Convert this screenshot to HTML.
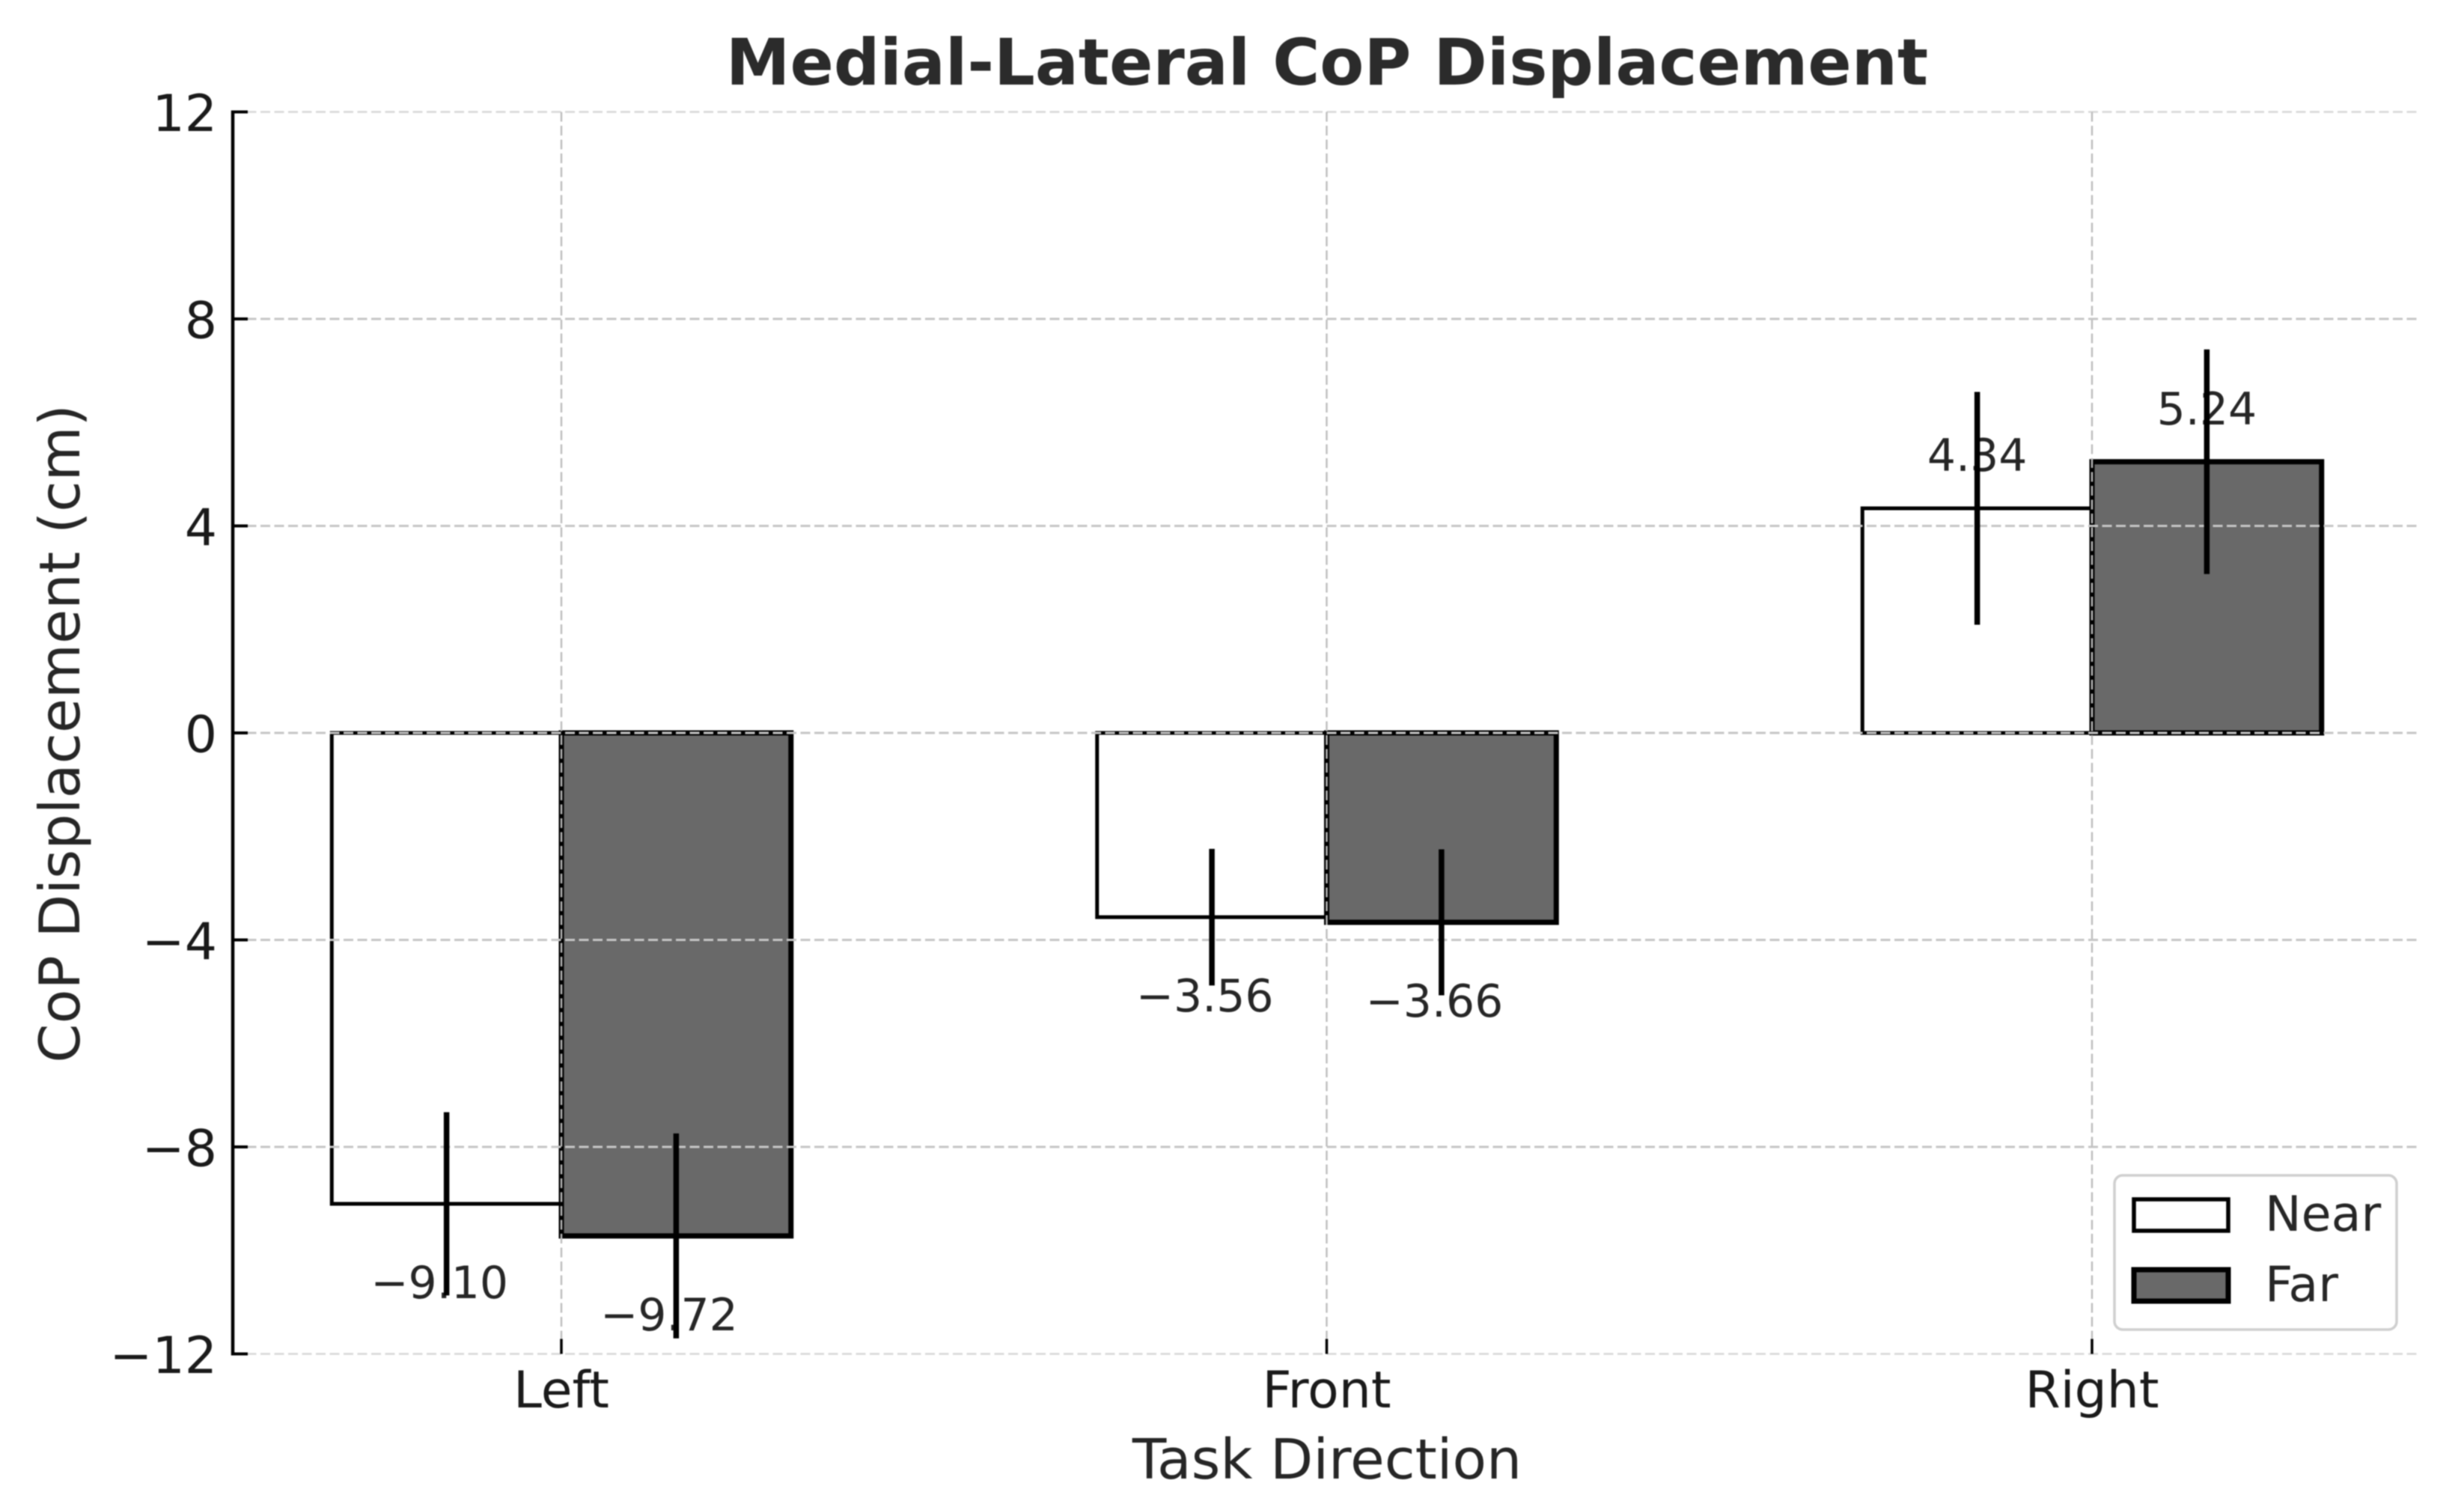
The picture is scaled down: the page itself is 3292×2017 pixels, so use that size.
<!DOCTYPE html>
<html lang="en">
<head>
<meta charset="utf-8">
<title>Medial-Lateral CoP Displacement</title>
<style>
  html, body { margin: 0; padding: 0; background: #ffffff; }
  body { width: 3292px; height: 2017px; overflow: hidden; }
  svg { display: block; filter: blur(0.8px); }
  text { font-family: "DejaVu Sans", "Liberation Sans", sans-serif; fill: #262626; }
</style>
</head>
<body>
<svg id="chart" xmlns="http://www.w3.org/2000/svg" width="3292" height="2017" viewBox="0 0 3292 2017">
  <rect x="0" y="0" width="3292" height="2017" fill="#ffffff"/>
  <g id="bars"></g>
  <g id="grid"></g>
  <g id="axes"></g>
  <g id="labels"></g>
  <g id="errors"></g>
  <text x="1773" y="113" text-anchor="middle" font-size="86" font-weight="700" style="fill:#2b2b2b">Medial-Lateral CoP Displacement</text>
  <text x="1773" y="1975" text-anchor="middle" font-size="74.4">Task Direction</text>
  <text transform="translate(106 980) rotate(-90)" text-anchor="middle" font-size="75">CoP Displacement (cm)</text>
  <g>
    <rect x="2825" y="1570" width="377" height="206" rx="11" ry="11" fill="#ffffff" stroke="#cfcfcf" stroke-width="3.5"/>
    <rect x="2851" y="1602" width="126" height="42" fill="#ffffff" stroke="#000000" stroke-width="5.5"/>
    <text x="3026" y="1644" font-size="65">Near</text>
    <rect x="2851" y="1696" width="126" height="42" fill="#696969" stroke="#000000" stroke-width="7"/>
    <text x="3026" y="1738" font-size="65">Far</text>
  </g>
</svg>
<script>
const categories = ["Left", "Front", "Right"];
const nearValues = [-9.10, -3.56, 4.34];
const farValues = [-9.72, -3.66, 5.24];
const nearErrors = [1.77, 1.32, 2.25];
const farErrors = [1.98, 1.41, 2.17];
const yTicks = [-12, -8, -4, 0, 4, 8, 12];

const NS = "http://www.w3.org/2000/svg";
const Y_TOP = 149.5, Y_BOTTOM = 1808.5, Y_MIN = -12, Y_MAX = 12;
const X_FIRST = 750, X_STEP = 1022.5, X_AXIS = 311, X_END = 3233;
const BAR_WIDTH = 0.3 * X_STEP;

function yScale(v) {
  return Y_BOTTOM - (v - Y_MIN) / (Y_MAX - Y_MIN) * (Y_BOTTOM - Y_TOP);
}
function xScale(i) {
  return X_FIRST + i * X_STEP;
}
function fmt(v, digits) {
  return (v < 0 ? "\u2212" : "") + Math.abs(v).toFixed(digits);
}
function make(tag, parent, props, content) {
  const el = document.createElementNS(NS, tag);
  for (const k in props) el.setAttribute(k, props[k]);
  if (content !== undefined) el.textContent = content;
  parent.appendChild(el);
  return el;
}

const barsLayer = document.getElementById("bars");
const gridLayer = document.getElementById("grid");
const axesLayer = document.getElementById("axes");
const labelsLayer = document.getElementById("labels");
const errorsLayer = document.getElementById("errors");

function drawBar(i, value, side, fill, strokeWidth, seriesName) {
  const x0 = side < 0 ? xScale(i) - BAR_WIDTH : xScale(i);
  const y0 = Math.min(yScale(value), yScale(0));
  const h = Math.abs(yScale(value) - yScale(0));
  const bar = make("rect", barsLayer, {
    x: x0, y: y0, width: BAR_WIDTH, height: h,
    fill: fill, stroke: "#000000", "stroke-width": strokeWidth
  });
  
  
}

function drawError(i, value, err, side, seriesName) {
  const cx = xScale(i) + side * BAR_WIDTH / 2;
  const line = make("line", errorsLayer, {
    x1: cx, x2: cx, y1: yScale(value + err), y2: yScale(value - err),
    stroke: "#000000", "stroke-width": 7.5
  });
  
  
}

function drawValueLabel(i, value, side, seriesName) {
  const cx = xScale(i) + side * BAR_WIDTH / 2 + (value < 0 ? -9.5 : 0);
  const by = yScale(value) + (value < 0 ? 126 : -50);
  const label = make("text", labelsLayer, {
    x: cx, y: by, "text-anchor": "middle", "font-size": 60
  }, fmt(value, 2));
  
  
}

categories.forEach(function (c, i) {
  drawBar(i, nearValues[i], -1, "#ffffff", 5, "near");
});
categories.forEach(function (c, i) {
  drawBar(i, farValues[i], 1, "#696969", 7, "far");
});

yTicks.forEach(function (t) {
  const strong = Math.abs(t) !== 12;
  const g = make("line", gridLayer, {
    x1: X_AXIS, x2: X_END, y1: yScale(t), y2: yScale(t),
    stroke: strong ? "#c6c6c6" : "#d8d8d8", "stroke-width": strong ? 3 : 2.5,
    "stroke-dasharray": "13 5.5"
  });
  
  

  const tick = make("line", axesLayer, {
    x1: X_AXIS, x2: X_AXIS + 20, y1: yScale(t), y2: yScale(t),
    stroke: "#000000", "stroke-width": 4
  });
  
  

  const lbl = make("text", axesLayer, {
    x: 290, y: yScale(t) + 25.5, "text-anchor": "end", "font-size": 68, style: "fill:#1a1a1a"
  }, fmt(t, 0));
  
  
});

categories.forEach(function (c, i) {
  const g = make("line", gridLayer, {
    x1: xScale(i), x2: xScale(i), y1: Y_TOP, y2: Y_BOTTOM,
    stroke: "#bdbdbd", "stroke-width": 2.4, "stroke-dasharray": "13 5.5"
  });
  
  

  const tick = make("line", axesLayer, {
    x1: xScale(i), x2: xScale(i), y1: Y_BOTTOM, y2: Y_BOTTOM - 20,
    stroke: "#000000", "stroke-width": 3.5
  });
  
  

  const lbl = make("text", axesLayer, {
    x: xScale(i), y: 1880, "text-anchor": "middle", "font-size": 68, style: "fill:#1a1a1a"
  }, c);
  
  
});

const spine = make("line", axesLayer, {
  x1: X_AXIS, x2: X_AXIS, y1: Y_TOP - 2, y2: Y_BOTTOM + 2,
  stroke: "#000000", "stroke-width": 4.5
});



categories.forEach(function (c, i) {
  drawValueLabel(i, nearValues[i], -1, "near");
  drawValueLabel(i, farValues[i], 1, "far");
  drawError(i, nearValues[i], nearErrors[i], -1, "near");
  drawError(i, farValues[i], farErrors[i], 1, "far");
});
</script>
</body>
</html>
